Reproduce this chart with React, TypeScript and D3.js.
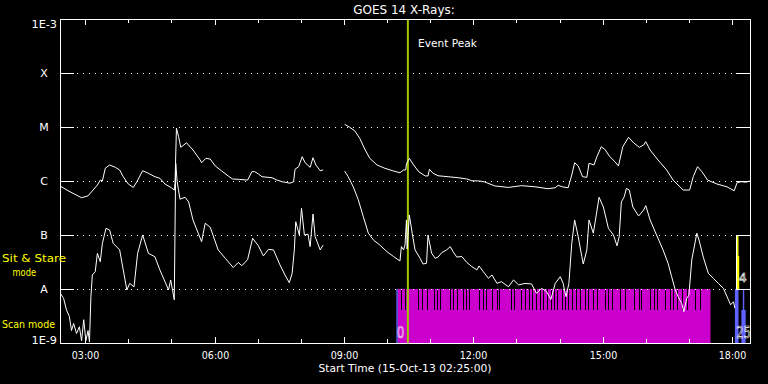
import React from "react";
import * as d3 from "d3";

const TITLE = "GOES 14 X-Rays:";
const X_TITLE = "Start Time (15-Oct-13 02:25:00)";
const timeStart = "02:25";
const timeEnd = "18:25";
const hourTicks = ["03:00","04:00","05:00","06:00","07:00","08:00","09:00","10:00","11:00","12:00","13:00","14:00","15:00","16:00","17:00","18:00"];
const majorTicks = ["03:00","06:00","09:00","12:00","15:00","18:00"];
const fluxLevels = [1e-3, 1e-4, 1e-5, 1e-6, 1e-7, 1e-8, 1e-9];
const fluxLabels = ["1E-3", "X", "M", "C", "B", "A", "1E-9"];
const eventPeak = "10:29";
const eventLabel = "Event Peak";

type Pt = [string, number | null];

const longChannel: Pt[] = [
  ["02:25", 8.1e-7], ["02:39", 6.3e-7], ["02:55", 4.9e-7], ["03:04", 5.3e-7], ["03:11", 6.8e-7],
  ["03:17", 8.4e-7], ["03:21", 1.04e-6], ["03:24", 1.0e-6], ["03:28", 1.72e-6], ["03:34", 1.98e-6],
  ["03:42", 1.79e-6], ["03:48", 1.6e-6], ["03:53", 1.2e-6], ["04:00", 8.8e-7], ["04:07", 7.6e-7],
  ["04:12", 9.7e-7], ["04:20", 1.55e-6], ["04:28", 1.39e-6], ["04:37", 1.2e-6], ["04:44", 1.12e-6],
  ["04:51", 8.8e-7], ["05:00", 7.5e-7], ["05:04", 6.8e-7], ["05:05", 9.1e-7], ["05:07", 9.5e-6],
  ["05:10", 6.6e-6], ["05:13", 4.2e-6], ["05:21", 5.1e-6], ["05:30", 3.75e-6], ["05:40", 2.45e-6],
  ["05:42", 2.18e-6], ["05:48", 2.63e-6], ["05:54", 2.55e-6], ["06:01", 1.9e-6], ["06:10", 1.53e-6],
  ["06:19", 1.24e-6], ["06:25", 1.09e-6], ["06:35", 1.07e-6], ["06:46", 1.04e-6], ["06:52", 1.49e-6],
  ["06:56", 1.49e-6], ["07:01", 1.35e-6], ["07:06", 1.2e-6], ["07:20", 1.15e-6], ["07:27", 1.04e-6],
  ["07:34", 9.7e-7], ["07:45", 9.1e-7], ["07:50", 9.7e-7], ["07:52", 1.65e-6], ["07:57", 1.84e-6],
  ["08:02", 2.82e-6], ["08:06", 2.18e-6], ["08:13", 1.79e-6], ["08:17", 2.7e-6], ["08:21", 1.98e-6],
  ["08:27", 1.55e-6], ["08:31", 1.6e-6], ["08:45", null],
  ["09:01", 1.12e-5], ["09:08", 9.9e-6], ["09:15", 8.5e-6], ["09:22", 6.2e-6], ["09:29", 3.9e-6],
  ["09:36", 2.63e-6], ["09:46", 1.98e-6], ["09:57", 1.72e-6], ["10:09", 1.53e-6], ["10:18", 1.42e-6],
  ["10:23", 1.6e-6], ["10:26", 1.6e-6], ["10:27", 2.06e-6], ["10:31", 2.63e-6], ["10:37", 1.98e-6],
  ["10:44", 1.49e-6], ["10:53", 1.24e-6], ["10:57", 1.24e-6], ["10:59", 1.65e-6], ["11:04", 1.39e-6],
  ["11:11", 1.25e-6], ["11:25", 1.2e-6], ["11:39", 1.15e-6], ["11:51", 1.09e-6], ["11:58", 1.01e-6],
  ["12:09", 1.0e-6], ["12:16", 9.6e-7], ["12:30", 8.1e-7], ["12:49", 7.6e-7], ["13:07", 8.2e-7],
  ["13:26", 7.8e-7], ["13:44", 7.2e-7], ["13:54", 7.5e-7], ["13:58", 8.3e-7], ["14:04", 7.8e-7],
  ["14:12", 7.5e-7], ["14:17", 1.29e-6], ["14:21", 2.18e-6], ["14:26", 1.9e-6], ["14:32", 1.2e-6],
  ["14:38", 1.17e-6], ["14:41", 2.13e-6], ["14:48", 1.98e-6], ["14:52", 2.82e-6], ["14:58", 4.3e-6],
  ["15:03", 3.86e-6], ["15:10", 2.82e-6], ["15:17", 2.28e-6], ["15:22", 1.9e-6], ["15:28", 4.3e-6],
  ["15:36", 6.45e-6], ["15:43", 5.1e-6], ["15:51", 4.2e-6], ["15:57", 4.64e-6], ["16:00", 5.35e-6],
  ["16:06", 3.75e-6], ["16:17", 2.45e-6], ["16:29", 1.6e-6], ["16:38", 1.04e-6], ["16:52", 6.8e-7],
  ["17:01", 6.8e-7], ["17:06", 1.2e-6], ["17:12", 1.84e-6], ["17:18", 1.49e-6], ["17:26", 1.04e-6],
  ["17:39", 8.8e-7], ["17:53", 7.8e-7], ["18:03", 6.6e-7], ["18:07", 9.3e-7], ["18:13", 9.7e-7],
  ["18:20", 9.5e-7], ["18:24", 1.0e-6],
];

const shortChannel: Pt[] = [
  ["02:25", 8.5e-9], ["02:30", 6.7e-9], ["02:34", 4.1e-9], ["02:38", 3.1e-9], ["02:41", 1.7e-9],
  ["02:44", 2.3e-9], ["02:48", 1.5e-9], ["02:52", 2.0e-9], ["02:55", 1.1e-9], ["02:58", 2.7e-9],
  ["03:01", 1.1e-9], ["03:04", 1.7e-9], ["03:06", 1.05e-9], ["03:08", 7.2e-9], ["03:10", 1.82e-8],
  ["03:14", 2.09e-8], ["03:17", 4.58e-8], ["03:21", 3.2e-8], ["03:24", 7.0e-8], ["03:29", 1.33e-7],
  ["03:34", 1.24e-7], ["03:39", 7.0e-8], ["03:48", 5.3e-8], ["03:53", 2.25e-8], ["03:58", 9.6e-9],
  ["04:02", 1.27e-8], ["04:08", 1.1e-8], ["04:13", 4.58e-8], ["04:20", 1.0e-7], ["04:28", 4.58e-8],
  ["04:37", 3.96e-8], ["04:44", 2.25e-8], ["04:51", 1.37e-8], ["04:56", 9.6e-9], ["04:59", 1.47e-8],
  ["05:04", 6.3e-9], ["05:06", 2.13e-6], ["05:08", 9.7e-7], ["05:12", 4.6e-7], ["05:19", 5.0e-7],
  ["05:24", 4.1e-7], ["05:30", 1.9e-7], ["05:42", 7.5e-8], ["05:47", 1.65e-7], ["05:54", 1.39e-7],
  ["06:05", 5.3e-8], ["06:15", 3.7e-8], ["06:26", 2.5e-8], ["06:33", 3.1e-8], ["06:38", 2.7e-8],
  ["06:46", 3.5e-8], ["06:53", 8.7e-8], ["07:01", 6.3e-8], ["07:08", 4.1e-8], ["07:15", 5.4e-8],
  ["07:22", 5.3e-8], ["07:31", 2.8e-8], ["07:38", 1.82e-8], ["07:44", 1.31e-8], ["07:48", 1.95e-8],
  ["07:51", 5.3e-8], ["07:53", 1.76e-7], ["07:58", 1.0e-7], ["08:01", 3.12e-7], ["08:05", 1.0e-7],
  ["08:10", 1.04e-7], ["08:13", 6.1e-8], ["08:17", 2.45e-7], ["08:20", 9.3e-8], ["08:27", 5.3e-8],
  ["08:31", 6.5e-8], ["08:45", null],
  ["09:01", 1.53e-6], ["09:06", 1.2e-6], ["09:13", 7.8e-7], ["09:20", 4.5e-7], ["09:27", 2.18e-7],
  ["09:34", 1.08e-7], ["09:41", 8.1e-8], ["09:50", 6.5e-8], ["10:00", 4.9e-8], ["10:09", 4.0e-8],
  ["10:18", 3.3e-8], ["10:20", 6.1e-8], ["10:23", 5.3e-8], ["10:25", 6.5e-8], ["10:27", 1.9e-7],
  ["10:28", 5.5e-8], ["10:31", 2.35e-7], ["10:35", 1.08e-7], ["10:39", 5.3e-8], ["10:46", 3.7e-8],
  ["10:50", 2.9e-8], ["10:55", 3.0e-8], ["10:57", 1.0e-7], ["11:02", 4.6e-8], ["11:07", 3.7e-8],
  ["11:11", 3.9e-8], ["11:16", 4.7e-8], ["11:23", 5.3e-8], ["11:28", 6.1e-8], ["11:32", 4.9e-8],
  ["11:37", 3.9e-8], ["11:44", 4.0e-8], ["11:51", 3.1e-8], ["11:58", 2.6e-8], ["12:05", 2.25e-8],
  ["12:08", 2.67e-8], ["12:14", 2.09e-8], ["12:21", 1.58e-8], ["12:26", 1.82e-8], ["12:33", 1.27e-8],
  ["12:39", 1.37e-8], ["12:49", 1.1e-8], ["12:56", 1.47e-8], ["13:03", 1.19e-8], ["13:12", 1.27e-8],
  ["13:21", 1.24e-8], ["13:28", 8.3e-9], ["13:35", 1.03e-8], ["13:42", 8.9e-9], ["13:48", 6.4e-9],
  ["13:54", 1.27e-8], ["14:01", 1.69e-8], ["14:05", 1.27e-8], ["14:09", 7.2e-9], ["14:13", 1.27e-8],
  ["14:17", 7.0e-8], ["14:21", 1.9e-7], ["14:26", 9.3e-8], ["14:31", 4.0e-8], ["14:33", 2.9e-8],
  ["14:38", 5.3e-8], ["14:41", 1.9e-7], ["14:47", 1.08e-7], ["14:50", 1.9e-7], ["14:55", 5.0e-7],
  ["15:01", 3.3e-7], ["15:08", 1.33e-7], ["15:15", 1.0e-7], ["15:20", 6.3e-8], ["15:23", 9.3e-8],
  ["15:26", 4.1e-7], ["15:30", 5.1e-7], ["15:33", 7.3e-7], ["15:37", 6.8e-7], ["15:42", 3.3e-7],
  ["15:50", 2.25e-7], ["15:57", 2.9e-7], ["16:00", 3.5e-7], ["16:06", 1.9e-7], ["16:15", 1.0e-7],
  ["16:24", 5.3e-8], ["16:31", 3.0e-8], ["16:36", 1.69e-8], ["16:41", 9.6e-9], ["16:45", 7.2e-9],
  ["16:50", 5.4e-9], ["16:53", 3.8e-9], ["16:57", 6.7e-9], ["17:00", 7.7e-9], ["17:04", 3.45e-8],
  ["17:11", 1.08e-7], ["17:14", 8.1e-8], ["17:20", 3.9e-8], ["17:27", 1.95e-8], ["17:34", 1.58e-8],
  ["17:41", 1.27e-8], ["17:48", 1.03e-8], ["17:55", 6.3e-9], ["17:58", 5.1e-9], ["18:02", 5.8e-9],
  ["18:04", 4.4e-9],
];

// Scan mode observation coverage
const scanBlueSpan = ["10:13", "10:15"];
const scanSpan = ["10:15", "17:30"];
const scanGaps = [
  "10:20","10:25","10:43","10:48","10:55","11:05","11:10","11:14","11:28","11:32","11:37",
  "11:45","11:50","11:54","12:08","12:13","12:18","12:26","12:33","12:36","12:52","12:57",
  "13:07","13:12","13:17","13:21","13:27","13:33","13:37","13:42","13:48","13:52","13:56",
  "14:03","14:08","14:12","14:18","14:23","14:28","14:35","14:40","14:47","14:52","15:03",
  "15:08","15:13","15:24","15:31","15:43","15:50","15:54","16:06","16:11","16:15","16:27",
  "16:33","16:38","16:43","16:50","16:57","17:09","17:15",
];
const scanLateBlue = [["18:04", "18:09"], ["18:13", "18:19"]];
const scanLateThin = [["18:15", "18:17"]];
const sitStareSpans = [["18:07", "18:09"]];
const sitStareBold = [["18:07", "18:10"]];
const sitStareStart = "18:06";
const scanLabels = [["10:14", "0"], ["18:06", "25"]];
const sitStareLegend = ["Sit & Stare", "mode"];
const scanLegend = "Scan mode";

function parseT(s: string) {
  const [h, m] = s.split(":").map(Number);
  return new Date(2013, 9, 15, h, m);
}

const FONT = "DejaVu Sans, sans-serif";
const MAGENTA = "#cc00cc";
const BLUE = "#5f62ff";
const YELLOW = "#ffff00";
const PEAK = "#a0c800";

export default function App() {
  const L = 60, R = 750, T = 19, B = 343;
  const x = d3.scaleTime().domain([parseT(timeStart), parseT(timeEnd)]).range([L, R]);
  const y = d3.scaleLog().domain([1e-9, 1e-3]).range([B, T]);
  const line = d3
    .line<Pt>()
    .defined((d) => d[1] != null)
    .x((d) => x(parseT(d[0])))
    .y((d) => y(d[1] as number));

  const yA = y(1e-8);
  const yB = y(1e-7);
  const split = yA + 21;
  const xs = (s: string) => x(parseT(s));

  return (
    <svg width={768} height={384} style={{ position: "absolute", left: 0, top: 0, background: "#000" }}>
      <rect x={0} y={0} width={768} height={384} fill="#000" />
      <defs>
        <clipPath id="plot">
          <rect x={L} y={T} width={R - L} height={B - T} />
        </clipPath>
      </defs>

      {/* scan mode band */}
      <rect x={xs(scanSpan[0])} y={yA} width={xs(scanSpan[1]) - xs(scanSpan[0])} height={B - yA} fill={MAGENTA} />
      <rect x={xs(scanBlueSpan[0])} y={yA} width={xs(scanBlueSpan[1]) - xs(scanBlueSpan[0])} height={B - yA} fill={BLUE} />
      {scanGaps.map((g) => (
        <rect key={g} x={Math.round(xs(g))} y={yA} width={1} height={split - yA} fill="#000" />
      ))}
      {scanLateBlue.map(([a, b], i) => (
        <rect key={"lb" + i} x={xs(a)} y={i === 0 ? yA : split} width={xs(b) - xs(a)} height={i === 0 ? B - yA : B - split} fill={BLUE} />
      ))}
      {scanLateThin.map(([a, b], i) => (
        <rect key={"lt" + i} x={xs(a)} y={yA} width={xs(b) - xs(a)} height={split - yA} fill={BLUE} />
      ))}

      {/* sit & stare */}
      <line x1={Math.round(xs(sitStareStart)) + 0.5} x2={Math.round(xs(sitStareStart)) + 0.5} y1={yB} y2={yA} stroke="#fff" strokeWidth={1} />
      {sitStareSpans.map(([a, b], i) => (
        <rect key={"ss" + i} x={xs(a)} y={yB} width={xs(b) - xs(a)} height={yA - yB} fill={YELLOW} />
      ))}
      {sitStareBold.map(([a, b], i) => (
        <rect key={"sb" + i} x={xs(a)} y={yA - 33} width={xs(b) - xs(a)} height={33} fill={YELLOW} />
      ))}
      <text x={739} y={282} fontFamily={FONT} fontSize={12} fill="none" stroke="#fff" strokeWidth={0.6}>4</text>

      {/* grid */}
      {fluxLevels.slice(1, 6).map((v) => (
        <g key={v}>
          <line x1={77} x2={736} y1={Math.round(y(v)) + 0.5} y2={Math.round(y(v)) + 0.5} stroke="#fff" strokeDasharray="1,5" />
          <line x1={L} x2={L + 14} y1={Math.round(y(v)) + 0.5} y2={Math.round(y(v)) + 0.5} stroke="#fff" />
          <line x1={R - 14} x2={R} y1={Math.round(y(v)) + 0.5} y2={Math.round(y(v)) + 0.5} stroke="#fff" />
        </g>
      ))}

      {/* event peak */}
      <line x1={xs(eventPeak)} x2={xs(eventPeak)} y1={T} y2={B} stroke={PEAK} strokeWidth={2} />
      <text x={418} y={47} fontFamily={FONT} fontSize={11} fill="#fff" textLength={59} lengthAdjust="spacingAndGlyphs">{eventLabel}</text>

      {/* data */}
      <g clipPath="url(#plot)">
        <path d={line(longChannel) || ""} fill="none" stroke="#fff" strokeWidth={1} />
        <path d={line(shortChannel) || ""} fill="none" stroke="#fff" strokeWidth={1} />
      </g>

      {/* scan labels */}
      {scanLabels.map(([t, s]) => (
        <text key={s} x={xs(t)} y={338} fontFamily={FONT} fontSize={15} fill="none" stroke="#fff" strokeWidth={0.6}
          textLength={s.length * 7.2} lengthAdjust="spacingAndGlyphs">{s}</text>
      ))}

      {/* frame */}
      <rect x={L + 0.5} y={T + 0.5} width={R - L} height={B - T} fill="none" stroke="#fff" strokeWidth={1} />

      {/* x ticks */}
      {hourTicks.map((h) => {
        const major = majorTicks.includes(h);
        const px = Math.round(xs(h)) + 0.5;
        const len = major ? 6 : 4;
        return (
          <g key={h}>
            <line x1={px} x2={px} y1={T} y2={T + len} stroke="#fff" />
            <line x1={px} x2={px} y1={B} y2={B - len} stroke="#fff" />
            {major && (
              <text x={px} y={358.5} textAnchor="middle" fontFamily={FONT} fontSize={10} fill="#fff" textLength={27.5} lengthAdjust="spacingAndGlyphs">{h}</text>
            )}
          </g>
        );
      })}

      {/* y labels */}
      {fluxLevels.map((v, i) => {
        const lab = fluxLabels[i];
        const isNum = lab.length > 1;
        let by = y(v) + 4;
        if (i === 0) by = T + 8.5;
        if (i === fluxLevels.length - 1) by = B + 0.5;
        return (
          <text key={lab} x={isNum ? 57 : 44} y={by} textAnchor={isNum ? "end" : "middle"} fontFamily={FONT} fontSize={11} fill="#fff"
            {...(isNum ? { textLength: 25.5, lengthAdjust: "spacingAndGlyphs" } : {})}>{lab}</text>
        );
      })}

      {/* legends */}
      <text x={2} y={262} fontFamily={FONT} fontSize={11} fill={YELLOW} textLength={64} lengthAdjust="spacingAndGlyphs">{sitStareLegend[0]}</text>
      <text x={12.5} y={276} fontFamily={FONT} fontSize={11} fill={YELLOW} textLength={23.5} lengthAdjust="spacingAndGlyphs">{sitStareLegend[1]}</text>
      <text x={2} y={328} fontFamily={FONT} fontSize={11} fill={YELLOW} textLength={53} lengthAdjust="spacingAndGlyphs">{scanLegend}</text>

      {/* titles */}
      <text x={404} y={14} textAnchor="middle" fontFamily={FONT} fontSize={12} fill="#fff">{TITLE}</text>
      <text x={405} y={372} textAnchor="middle" fontFamily={FONT} fontSize={11} fill="#fff" textLength={173} lengthAdjust="spacingAndGlyphs">{X_TITLE}</text>
    </svg>
  );
}
